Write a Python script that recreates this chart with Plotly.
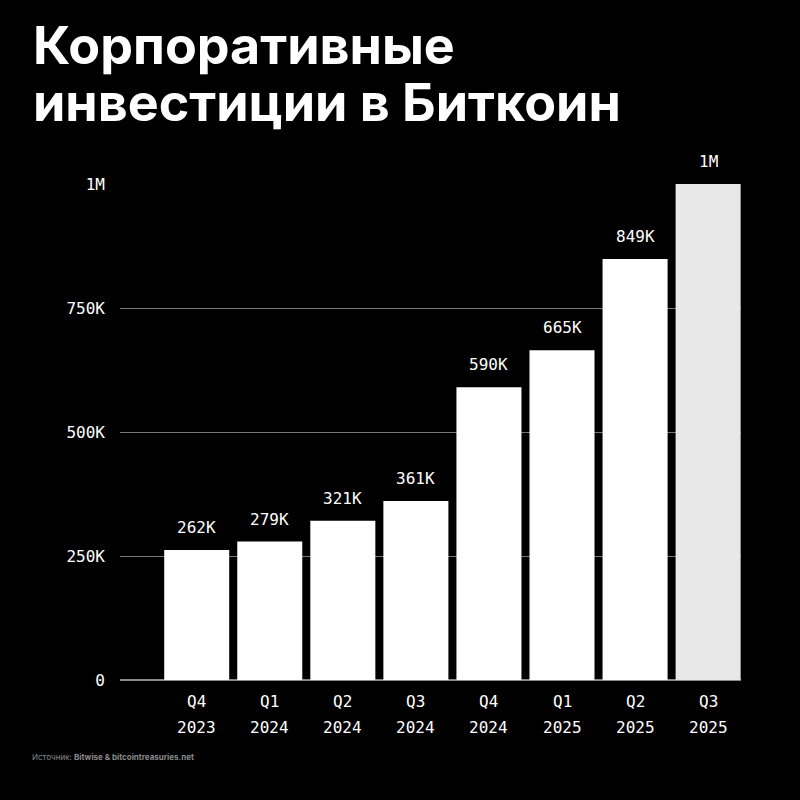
import plotly.graph_objects as go

# Chart data
quarters = ["Q4", "Q1", "Q2", "Q3", "Q4", "Q1", "Q2", "Q3"]
years = ["2023", "2024", "2024", "2024", "2024", "2025", "2025", "2025"]
btc_values = [262000, 279000, 321000, 361000, 590000, 665000, 849000, 1000000]
value_labels = ["262K", "279K", "321K", "361K", "590K", "665K", "849K", "1M"]
y_tick_values = [0, 250000, 500000, 750000, 1000000]
y_tick_labels = ["0", "250K", "500K", "750K", "1M"]

mono = "DejaVu Sans Mono"
bar_colors = ["#ffffff"] * 7 + ["#e8e8e8"]
positions = list(range(len(quarters)))

fig = go.Figure()

fig.add_trace(go.Bar(
    x=positions,
    y=btc_values,
    marker=dict(color=bar_colors, line=dict(width=0)),
    hoverinfo="skip",
))

# Value labels above the bars
for pos, val, label in zip(positions, btc_values, value_labels):
    fig.add_annotation(
        x=pos, y=val, text=label, showarrow=False,
        xanchor="center", yanchor="bottom", yshift=11,
        font=dict(family=mono, size=16, color="#ffffff"),
    )

# Category labels (quarter on top, year below)
for pos, q, yr in zip(positions, quarters, years):
    fig.add_annotation(
        x=pos, y=0, yref="y", text=q, showarrow=False,
        xanchor="center", yanchor="middle", yshift=-21,
        font=dict(family=mono, size=16, color="#ffffff"),
    )
    fig.add_annotation(
        x=pos, y=0, yref="y", text=yr, showarrow=False,
        xanchor="center", yanchor="middle", yshift=-47,
        font=dict(family=mono, size=16, color="#ffffff"),
    )

# Title in two lines
fig.add_annotation(
    text="<b>Корпоративные</b>", xref="paper", yref="paper",
    x=-0.143, y=1.28, xanchor="left", yanchor="middle",
    showarrow=False,
    font=dict(family="Inter", size=52, color="#ffffff"),
)
fig.add_annotation(
    text="<b>инвестиции в Биткоин</b>", xref="paper", yref="paper",
    x=-0.143, y=1.164, xanchor="left", yanchor="middle",
    showarrow=False,
    font=dict(family="Inter", size=52, color="#ffffff"),
)

# Source note
fig.add_annotation(
    text="Источник: <b>Bitwise & bitcointreasuries.net</b>",
    xref="paper", yref="paper", x=-0.145, y=-0.155,
    xanchor="left", yanchor="middle", showarrow=False,
    font=dict(family="Inter", size=8, color="#8a8a8a"),
)

fig.update_layout(
    width=800,
    height=800,
    paper_bgcolor="#000000",
    plot_bgcolor="#000000",
    showlegend=False,
    bargap=0.11,
    margin=dict(l=120, r=59, t=184, b=120),
    xaxis=dict(
        range=[-1.05, 7.45],
        showticklabels=False,
        showgrid=False,
        zeroline=False,
        showline=False,
        ticks="",
    ),
    yaxis=dict(
        range=[0, 1000000],
        tickmode="array",
        tickvals=y_tick_values,
        ticktext=y_tick_labels,
        tickfont=dict(family=mono, size=16, color="#ffffff"),
        showgrid=True,
        gridcolor="#777777",
        gridwidth=1,
        zeroline=True,
        zerolinecolor="#888888",
        zerolinewidth=1.5,
        ticks="",
        ticklabelstandoff=14,
    ),
)

fig.write_html(
    "out.html",
    config={"displayModeBar": False},
    post_script="document.body.style.margin='0';document.body.style.background='#000';",
)
